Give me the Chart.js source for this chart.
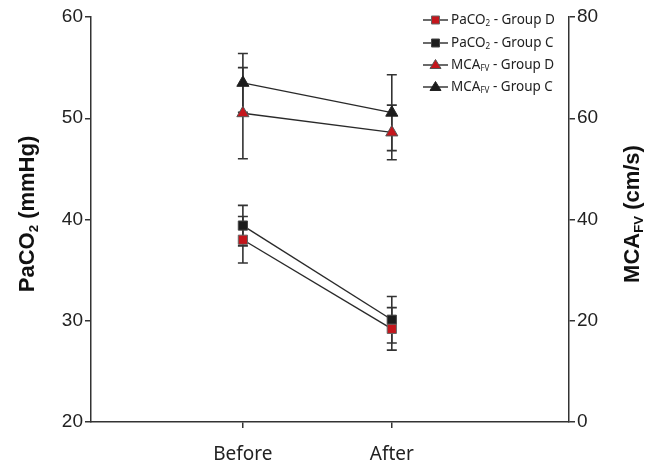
<!DOCTYPE html>
<html>
<head>
<meta charset="utf-8">
<script src="https://cdn.jsdelivr.net/npm/chart.js@4.4.1/dist/chart.umd.min.js"></script>
<style>
html,body{margin:0;padding:0;background:#fff;}
#wrap{width:657px;height:467px;}
</style>
</head>
<body>
<div id="wrap"><canvas id="c" width="657" height="467"></canvas></div>
<script>
// ---- data ----
const categories = ['Before', 'After'];
const paco2GroupD = [38.0, 29.2];
const paco2GroupDErr = [2.3, 2.1];
const paco2GroupC = [39.4, 30.1];
const paco2GroupCErr = [2.0, 2.3];
const mcaGroupD = [61.0, 57.2];
const mcaGroupDErr = [9.0, 5.4];
const mcaGroupC = [67.0, 61.1];
const mcaGroupCErr = [5.8, 7.5];
const leftTicks = [20, 30, 40, 50, 60];
const rightTicks = [0, 20, 40, 60, 80];

const RED = '#c4161c';
const BLACK = '#1c1c1c';
const AXIS = '#333333';
const LINE = '#2a2a2a';

function pts(vals, errs) {
  return vals.map((v, i) => ({ x: i + 1, y: v, err: errs[i] }));
}

const datasets = [
  { label: 'PaCO2 - Group D', data: pts(paco2GroupD, paco2GroupDErr), yAxisID: 'yL',
    pointStyle: 'rect', pointRadius: 6.5, backgroundColor: RED, pointBorderColor: '#666', pointBorderWidth: 1 },
  { label: 'PaCO2 - Group C', data: pts(paco2GroupC, paco2GroupCErr), yAxisID: 'yL',
    pointStyle: 'rect', pointRadius: 6.5, backgroundColor: BLACK, pointBorderColor: '#444', pointBorderWidth: 1 },
  { label: 'MCAFV - Group D', data: pts(mcaGroupD, mcaGroupDErr), yAxisID: 'yR',
    pointStyle: 'triangle', pointRadius: 7, backgroundColor: RED, pointBorderColor: '#555', pointBorderWidth: 1 },
  { label: 'MCAFV - Group C', data: pts(mcaGroupC, mcaGroupCErr), yAxisID: 'yR',
    pointStyle: 'triangle', pointRadius: 7, backgroundColor: BLACK, pointBorderColor: '#222', pointBorderWidth: 1 }
].map(d => Object.assign({
  type: 'line', borderColor: LINE, borderWidth: 1.4, fill: false, tension: 0,
  pointBackgroundColor: d.backgroundColor, pointHoverRadius: d.pointRadius
}, d));

const errorBars = {
  id: 'errorBars',
  beforeDatasetsDraw(chart) {
    const ctx = chart.ctx;
    ctx.save();
    ctx.strokeStyle = AXIS;
    ctx.lineWidth = 1.6;
    chart.data.datasets.forEach((ds, di) => {
      const ys = chart.scales[ds.yAxisID];
      const xs = chart.scales.x;
      ds.data.forEach(p => {
        const x = xs.getPixelForValue(p.x);
        const yt = ys.getPixelForValue(p.y + p.err);
        const yb = ys.getPixelForValue(p.y - p.err);
        ctx.beginPath();
        ctx.moveTo(x, yt); ctx.lineTo(x, yb);
        ctx.moveTo(x - 5, yt); ctx.lineTo(x + 5, yt);
        ctx.moveTo(x - 5, yb); ctx.lineTo(x + 5, yb);
        ctx.stroke();
      });
    });
    ctx.restore();
  }
};

function richWidth(ctx, parts, size, family, weight) {
  let w = 0;
  parts.forEach(p => {
    const s = p.sub ? size * 0.6 : size;
    ctx.font = `${weight} ${s}px ${family}`;
    w += ctx.measureText(p.t).width;
  });
  return w;
}
function drawRich(ctx, parts, x, y, size, family, weight, align) {
  const w = richWidth(ctx, parts, size, family, weight);
  let cx = align === 'center' ? x - w / 2 : x;
  ctx.textBaseline = 'middle';
  ctx.textAlign = 'left';
  parts.forEach(p => {
    const s = p.sub ? size * 0.6 : size;
    ctx.font = `${weight} ${s}px ${family}`;
    ctx.fillText(p.t, cx, p.sub ? y + size * 0.28 : y);
    cx += ctx.measureText(p.t).width;
  });
}

const legendParts = [
  [{ t: 'PaCO' }, { t: '2', sub: true }, { t: ' - Group D' }],
  [{ t: 'PaCO' }, { t: '2', sub: true }, { t: ' - Group C' }],
  [{ t: 'MCA' }, { t: 'FV', sub: true }, { t: ' - Group D' }],
  [{ t: 'MCA' }, { t: 'FV', sub: true }, { t: ' - Group C' }]
];

const annotations = {
  id: 'annotations',
  afterDraw(chart) {
    const ctx = chart.ctx;
    const midY = 214;
    ctx.save();
    ctx.fillStyle = '#111';
    // left axis title
    ctx.save();
    ctx.translate(28, midY);
    ctx.rotate(-Math.PI / 2);
    drawRich(ctx, [{ t: 'PaCO' }, { t: '2', sub: true }, { t: ' (mmHg)' }], 0, 0, 22, '"Liberation Sans", Arial, sans-serif', 'bold', 'center');
    ctx.restore();
    // right axis title
    ctx.save();
    ctx.translate(633, midY);
    ctx.rotate(-Math.PI / 2);
    drawRich(ctx, [{ t: 'MCA' }, { t: 'FV', sub: true }, { t: ' (cm/s)' }], 0, 0, 22, '"Liberation Sans", Arial, sans-serif', 'bold', 'center');
    ctx.restore();
    // legend
    const lx0 = 423, lx1 = 448, tx = 451;
    const rows = [20, 43, 65, 87];
    chart.data.datasets.forEach((ds, i) => {
      const y = rows[i];
      ctx.strokeStyle = LINE;
      ctx.lineWidth = 1.4;
      ctx.beginPath(); ctx.moveTo(lx0, y); ctx.lineTo(lx1, y); ctx.stroke();
      const cx = (lx0 + lx1) / 2;
      ctx.fillStyle = ds.backgroundColor;
      ctx.strokeStyle = ds.pointBorderColor;
      ctx.lineWidth = 1;
      ctx.beginPath();
      if (ds.pointStyle === 'rect') {
        ctx.rect(cx - 4, y - 4, 8, 8);
      } else {
        ctx.moveTo(cx, y - 5.5); ctx.lineTo(cx + 5.5, y + 3.5); ctx.lineTo(cx - 5.5, y + 3.5); ctx.closePath();
      }
      ctx.fill(); ctx.stroke();
      ctx.fillStyle = '#222';
      drawRich(ctx, legendParts[i], tx, y, 13.5, '"Noto Sans", sans-serif', 'normal', 'left');
    });
    ctx.restore();
  }
};

const tickFont = { family: '"Liberation Sans", Arial, sans-serif', size: 19 };

new Chart(document.getElementById('c'), {
  type: 'line',
  data: { datasets },
  options: {
    responsive: false,
    devicePixelRatio: 1,
    animation: false,
    layout: { padding: { top: 17, right: 0, left: 0, bottom: 0 } },
    plugins: { legend: { display: false }, tooltip: { enabled: false } },
    scales: {
      x: {
        type: 'linear', min: -0.02, max: 3.19,
        afterBuildTicks(scale) { scale.ticks = categories.map((c, i) => ({ value: i + 1 })); },
        afterFit(scale) { scale.height = 45; },
        ticks: { callback: v => categories[v - 1], color: '#222', font: { family: '"Noto Sans", sans-serif', size: 19 }, padding: 15, maxRotation: 0 },
        grid: { drawOnChartArea: false, drawTicks: true, tickLength: 6, color: AXIS, lineWidth: 1.5 },
        border: { display: true, color: AXIS, width: 1.5 }
      },
      yL: {
        type: 'linear', position: 'left', min: 20, max: 60,
        afterBuildTicks(scale) { scale.ticks = leftTicks.map(v => ({ value: v })); },
        afterFit(scale) { scale.width = 91; },
        ticks: { color: '#222', font: tickFont, padding: 2 },
        grid: { drawOnChartArea: false, drawTicks: true, tickLength: 6, color: AXIS, lineWidth: 1.5 },
        border: { display: true, color: AXIS, width: 1.5 }
      },
      yR: {
        type: 'linear', position: 'right', min: 0, max: 80,
        afterBuildTicks(scale) { scale.ticks = rightTicks.map(v => ({ value: v })); },
        afterFit(scale) { scale.width = 88; },
        ticks: { color: '#222', font: tickFont, padding: 2 },
        grid: { drawOnChartArea: false, drawTicks: true, tickLength: 6, color: AXIS, lineWidth: 1.5 },
        border: { display: true, color: AXIS, width: 1.5 }
      }
    }
  },
  plugins: [errorBars, annotations]
});
</script>
</body>
</html>
